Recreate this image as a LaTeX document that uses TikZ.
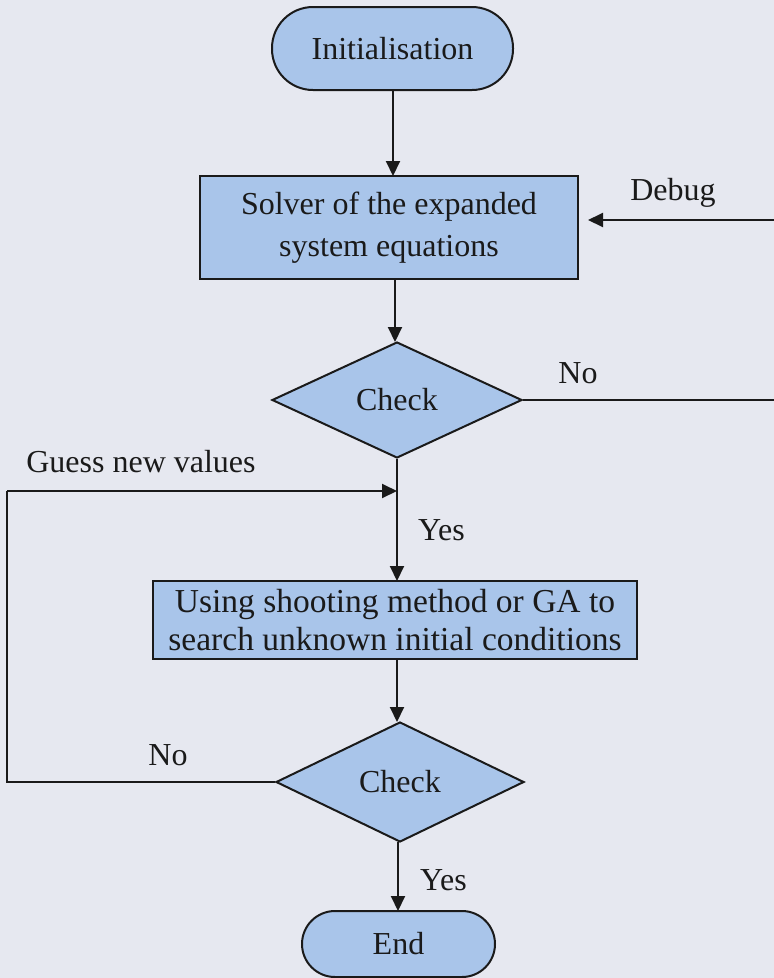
\documentclass[tikz,border=0pt]{standalone}
\usepackage{fontspec}
\setmainfont{Liberation Serif}
\usetikzlibrary{shapes.geometric,arrows.meta}
\definecolor{boxfill}{HTML}{A9C5EA}
\definecolor{paper}{HTML}{E6E8F0}
\definecolor{ink}{HTML}{1A1A1A}
\tikzset{
  base/.style={draw=ink, line width=2pt, fill=boxfill, text=ink, inner sep=0pt,
    font=\fontsize{32}{42}\selectfont, align=center},
  term/.style={base, rectangle},
  procbox/.style={base, rectangle},
  decide/.style={base, diamond},
  conn/.style={draw=ink, line width=2pt},
  arr/.style={conn, -{Triangle[length=15pt,width=14pt]}},
  lbl/.style={text=ink, inner sep=0pt, font=\fontsize{32}{38}\selectfont}
}
\begin{document}
\begin{tikzpicture}[x=1pt,y=-1pt]
\fill[paper] (0,0) rectangle (774,978);
\useasboundingbox (0,0) rectangle (774,978);

\node[term, rounded corners=41pt, minimum width=241pt, minimum height=83pt] (init) at (392.5,48.5) {Initialisation};
\node[procbox, minimum width=378pt, minimum height=103pt] (solver) at (389,227.5) {Solver of the expanded\\system equations};
\node[decide, minimum width=250pt, minimum height=116pt] (check1) at (397,400) {Check};
\node[procbox, minimum width=484pt, minimum height=78pt, font=\fontsize{33.5}{38}\selectfont] (search) at (395,620) {Using shooting method or GA to\\search unknown initial conditions};
\node[decide, minimum width=248pt, minimum height=120pt] (check2) at (400,782) {Check};
\node[term, rounded corners=33pt, minimum width=193pt, minimum height=66pt] (end) at (398.5,944) {End};

\coordinate (debugend) at (588,220);
\coordinate (rightB) at (790,220);
\coordinate (leftB) at (7,491);
\coordinate (join) at (397,491);

\draw[arr] (393,90) -- (393,176);
\draw[arr] (395,279) -- (395,342);
\draw[arr] (check1.south) -- (397,581);
\draw[arr] (397,659) -- (397,722);
\draw[arr] (398,842) -- (398,911);

\draw[conn] (check1.east) -- (check1.east -| rightB) -- (rightB);
\draw[arr] (rightB) -- (debugend);
\draw[conn] (check2.west) -- (check2.west -| leftB) -- (leftB);
\draw[arr] (leftB) -- (join);

\node[lbl, anchor=base] (debug) at (673,200) {Debug};
\node[lbl, anchor=base] (no1) at (578,383) {No};
\node[lbl, anchor=base] (guess) at (141,472) {Guess new values};
\node[lbl, anchor=base west] (yes1) at (418,540) {Yes};
\node[lbl, anchor=base] (no2) at (168,765) {No};
\node[lbl, anchor=base west] (yes2) at (420,890) {Yes};
\end{tikzpicture}
\end{document}
